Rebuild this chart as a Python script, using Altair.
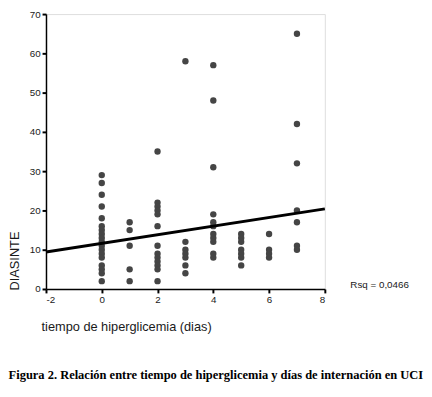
import altair as alt
import pandas as pd

# Data (x = días de hiperglicemia, y = DIASINTE)
col_x = [0, 1, 2, 3, 4, 5, 6, 7]
col_y = [
    [29, 27, 24, 21, 18, 16, 15, 14, 13, 12, 11, 10, 9, 8, 6, 5, 4, 2],
    [17, 15, 11, 5, 2],
    [35, 22, 21, 20, 19, 16, 11, 9, 8, 7, 6, 5, 2],
    [58, 12, 10, 9, 8, 6, 4],
    [57, 48, 31, 19, 17, 16, 14, 13, 12, 9, 8],
    [14, 13, 12, 10, 9, 8, 6],
    [14, 10, 9, 8],
    [65, 42, 32, 20, 17, 11, 10],
]
fit_x = [-2, 8]
fit_y = [9.4, 20.4]
x_ticks = [-2, 0, 2, 4, 6, 8]
y_ticks = [0, 10, 20, 30, 40, 50, 60, 70]
rsq_label = "Rsq = 0,0466"
x_title = "tiempo de hiperglicemia (dias)"
y_title = "DIASINTE"
caption = "Figura 2. Relación entre tiempo de hiperglicemia y días de internación en UCI"

rows = [{"x": cx, "y": v} for cx, ys in zip(col_x, col_y) for v in ys]
pts = pd.DataFrame(rows)
fit = pd.DataFrame({"x": fit_x, "y": fit_y})

W, H = 284, 280
FONT = "Liberation Sans"

xs = alt.Scale(domain=[-2, 8], nice=False, zero=False)
ys = alt.Scale(domain=[0, 70], nice=False, zero=False)

xaxis = alt.Axis(values=x_ticks, grid=False, tickSize=4, tickWidth=2, tickColor="black",
                 domainColor="black", domainWidth=1.5, labelFont=FONT, labelFontSize=10,
                 labelColor="#1a1a1a", labelPadding=2, labelOverlap=False,
                 labelExpr="'' + datum.value",
                 title=x_title, titleFont=FONT, titleFontSize=13, titleFontWeight="normal",
                 titleColor="#1a1a1a", titleAnchor="start", titleAlign="left",
                 titleBaseline="middle", titleX=-5, titleY=38)
yaxis = alt.Axis(values=y_ticks, tickCount=8, grid=False, tickSize=4, tickWidth=2,
                 tickColor="black", domainColor="black", domainWidth=1.5,
                 labelFont=FONT, labelFontSize=10, labelColor="#1a1a1a", labelPadding=2,
                 labelOverlap=False,
                 title=y_title, titleFont=FONT, titleFontSize=13, titleFontWeight="normal",
                 titleColor="#1a1a1a", titleAngle=270, titleAlign="center",
                 titleBaseline="middle", titleX=-32, titleY=251)

points = alt.Chart(pts).mark_circle(size=42, color="#454545", opacity=1).encode(
    x=alt.X("x:Q", scale=xs, axis=xaxis),
    y=alt.Y("y:Q", scale=ys, axis=yaxis),
)

line = alt.Chart(fit).mark_line(color="black", strokeWidth=3).encode(
    x=alt.X("x:Q", scale=xs, axis=xaxis),
    y=alt.Y("y:Q", scale=ys, axis=yaxis),
)

rsq = alt.Chart(pd.DataFrame({"t": [rsq_label]})).mark_text(
    font=FONT, fontSize=10, align="left", baseline="middle", color="#1a1a1a"
).encode(text="t:N", x=alt.value(310), y=alt.value(276))

cap = alt.Chart(pd.DataFrame({"t": [caption]})).mark_text(
    font="Liberation Serif", fontSize=12.7, fontWeight="bold", align="center",
    baseline="middle", color="black"
).encode(text="t:N", x=alt.value(173), y=alt.value(368))

chart = alt.layer(points, line, rsq, cap).properties(
    width=W, height=H,
    autosize=alt.AutoSizeParams(type="none"),
    padding={"left": 38.7, "top": 2.7, "right": 101, "bottom": 95},
).configure_view(stroke="#666666", strokeWidth=1).configure(background="white")

chart.save("out.html", embed_options={"renderer": "svg", "actions": False})
